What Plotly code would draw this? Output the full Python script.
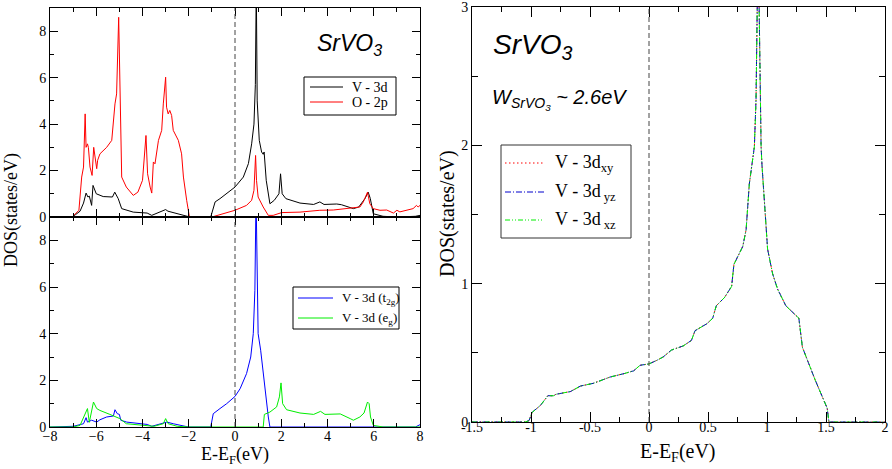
import plotly.graph_objects as go

# ---------------- data ----------------
# top-left panel: total V-3d and O-2p DOS
v3d_pts = [(-8,0), (-7.05,0), (-6.9,0.1), (-6.7,0.25), (-6.55,0.6), (-6.44,1.03), (-6.36,0.86), (-6.3,0.9),
           (-6.2,0.5), (-6.14,1.36), (-6.0,1.0), (-5.7,0.88), (-5.3,0.86), (-5.2,1.07), (-5.05,0.79), (-4.9,0.36),
           (-4.4,0.21), (-3.8,0.17), (-3.6,0.07), (-3.4,0.15), (-3.0,0.32), (-2.9,0.25), (-2.5,0.14), (-2.1,0.03),
           (-1.95,0), (-1.05,0), (-0.86,0.65), (-0.65,0.79), (-0.36,1.0), (0,1.29), (0.36,1.72), (0.58,2.3),
           (0.72,3.15), (0.82,4.0), (0.88,5.7), (0.92,10), (0.96,5.0), (1.05,3.3), (1.15,2.8), (1.22,2.7),
           (1.26,2.8), (1.35,1.58), (1.51,0.57), (1.7,0.72), (1.9,1.0), (1.97,1.86), (2.04,1.0), (2.2,0.79),
           (2.81,0.6), (3.4,0.54), (3.67,0.65), (3.85,0.54), (4.4,0.56), (4.6,0.53), (5.12,0.36), (5.35,0.43),
           (5.62,0.79), (5.76,1.07), (5.85,0.8), (5.98,0.14), (6.4,0.03), (7.0,0), (7.8,0.03), (8,0.07)]
o2p_pts = [(-8,0), (-7.05,0), (-6.99,0.05), (-6.75,0.29), (-6.63,1.72), (-6.55,2.15), (-6.48,4.44), (-6.44,3.0),
           (-6.38,3.15), (-6.34,3.0), (-6.27,2.15), (-6.18,1.79), (-6.11,3.0), (-6.05,2.58), (-5.98,2.08),
           (-5.94,2.44), (-5.84,2.72), (-5.55,3.0), (-5.33,3.3), (-5.19,4.87), (-5.12,5.3), (-5.03,8.6),
           (-4.98,5.3), (-4.9,1.72), (-4.7,1.29), (-4.4,0.93), (-4.2,1.07), (-4.0,1.58), (-3.85,3.51),
           (-3.78,1.86), (-3.67,1.29), (-3.6,1.03), (-3.53,2.37), (-3.46,2.29), (-3.31,3.3), (-3.17,3.73),
           (-3.1,4.87), (-3.0,6.02), (-2.96,4.73), (-2.89,4.44), (-2.82,4.59), (-2.74,4.37), (-2.67,3.73),
           (-2.45,3.3), (-2.31,2.72), (-2.23,1.72), (-2.09,0.72), (-1.97,0), (-1.0,0), (0,0.29), (0.5,0.5),
           (0.72,0.72), (0.82,1.15), (0.89,2.65), (0.93,1.58), (1.0,0.86), (1.22,0.43), (1.44,0.07), (1.65,0.07),
           (2.02,0.19), (2.81,0.21), (3.67,0.29), (4.25,0.3), (4.83,0.36), (5.4,0.43), (5.55,0.65), (5.66,0.93),
           (5.73,1.07), (5.83,0.57), (5.98,0.36), (6.27,0.29), (6.56,0.3), (6.85,0.17), (7.0,0.29), (7.13,0.22),
           (7.42,0.29), (7.7,0.36), (7.85,0.5), (7.92,0.43), (8.0,0.5)]

# bottom-left panel: t2g and eg projections
t2g_pts = [(-8,0), (-7.05,0), (-6.99,0.03), (-6.55,0.14), (-6.44,0.4), (-6.38,0.21), (-6.2,0.29), (-5.98,0.21),
           (-5.84,0.31), (-5.55,0.43), (-5.26,0.47), (-5.19,0.74), (-5.09,0.57), (-5.0,0.54), (-4.94,0.29),
           (-4.68,0.21), (-4.1,0.14), (-3.8,0.11), (-3.6,0.03), (-3.24,0.14), (-2.95,0.21), (-2.67,0.14),
           (-2.23,0.03), (-2.02,0), (-1.05,0), (-0.94,0.57), (-0.65,0.79), (-0.36,1.0), (0,1.31), (0.22,1.64),
           (0.5,2.29), (0.68,3.0), (0.79,4.0), (0.86,5.86), (0.91,10), (0.95,5.86), (1.0,4.0), (1.11,3.29),
           (1.22,2.31), (1.3,1.57), (1.37,1.0), (1.44,0.43), (1.51,0), (7.8,0), (8,0.1)]
eg_pts = [(-8,0), (-7.0,0), (-6.7,0.07), (-6.48,0.57), (-6.38,0.79), (-6.3,0.2), (-6.12,1.07), (-5.98,0.79),
          (-5.84,0.71), (-5.41,0.54), (-5.12,0.43), (-4.98,0.36), (-4.7,0.14), (-4.1,0.07), (-3.5,0.03),
          (-3.1,0.14), (-3.0,0.36), (-2.89,0.14), (-2.5,0.03), (-2.0,0), (1.22,0), (1.27,0.54), (1.51,0.64),
          (1.8,0.86), (1.92,1.29), (1.99,1.89), (2.06,1.0), (2.23,0.74), (2.81,0.6), (3.4,0.54), (3.7,0.67),
          (3.89,0.54), (4.4,0.57), (4.55,0.56), (4.98,0.36), (5.12,0.29), (5.4,0.43), (5.58,0.6), (5.73,1.07),
          (5.8,1.0), (5.86,0.43), (5.98,0.07), (6.4,0), (8,0)]

# right panel: single t2g orbital (xy, yz, xz coincide)
orb_pts = [(-1.5,0), (-1.05,0), (-1.017,0.01), (-0.99,0.07), (-0.92,0.12), (-0.857,0.19), (-0.806,0.19),
           (-0.79,0.2), (-0.666,0.22), (-0.58,0.26), (-0.47,0.28), (-0.33,0.325), (-0.21,0.35), (-0.13,0.37),
           (-0.076,0.41), (0,0.42), (0.065,0.445), (0.12,0.47), (0.19,0.52), (0.29,0.55), (0.36,0.59),
           (0.39,0.66), (0.49,0.71), (0.54,0.75), (0.57,0.84), (0.64,0.9), (0.70,0.98), (0.72,1.14),
           (0.795,1.27), (0.823,1.39), (0.85,1.72), (0.878,1.9), (0.893,1.99), (0.907,2.33), (0.916,2.82),
           (0.925,3.5), (0.935,2.9), (0.94,2.45), (0.95,1.99), (0.958,1.85), (0.978,1.56), (1.005,1.25),
           (1.048,1.07), (1.09,0.96), (1.16,0.84), (1.23,0.78), (1.27,0.75), (1.3,0.54), (1.357,0.41),
           (1.41,0.3), (1.47,0.18), (1.51,0.1), (1.525,0), (2.0,0)]

left_xticks = [-8, -6, -4, -2, 0, 2, 4, 6, 8]
left_yticks = [0, 2, 4, 6, 8]
right_xticks = [-1.5, -1, -0.5, 0, 0.5, 1, 1.5, 2]
right_xlabels = ["-1.5", "-1", "-0.5", "0", "0.5", "1", "1.5", "2"]
right_yticks = [0, 1, 2, 3]

names_top = ["V - 3d", "O - 2p"]
names_bot = ["V - 3d (t<sub>2g</sub>)", "V - 3d (e<sub>g</sub>)"]
names_right = ["V - 3d<sub>xy</sub>", "V - 3d<sub> yz</sub>", "V - 3d<sub> xz</sub>"]


def xy(pts):
    return [p[0] for p in pts], [p[1] for p in pts]


SERIF = "Liberation Serif"
SANS = "Liberation Sans"

style_top = [dict(color="black", width=1), dict(color="#ff0000", width=1)]
style_bot = [dict(color="#0000ff", width=1), dict(color="#00ee00", width=1)]
style_right = [dict(color="#ff0000", width=1, dash="1.5px,2.5px"),
               dict(color="#0000cc", width=1, dash="6px,2px,1px,2px"),
               dict(color="#00ee00", width=1, dash="5px,2px,1px,2px,1px,2px")]

fig = go.Figure()
for pts, nm, st in zip([v3d_pts, o2p_pts], names_top, style_top):
    x, y = xy(pts)
    fig.add_trace(go.Scatter(x=x, y=y, mode="lines", name=nm, line=st, xaxis="x", yaxis="y", showlegend=False))
for pts, nm, st in zip([t2g_pts, eg_pts], names_bot, style_bot):
    x, y = xy(pts)
    fig.add_trace(go.Scatter(x=x, y=y, mode="lines", name=nm, line=st, xaxis="x2", yaxis="y2", showlegend=False))
for nm, st in zip(names_right, style_right):
    x, y = xy(orb_pts)
    fig.add_trace(go.Scatter(x=x, y=y, mode="lines", name=nm, line=st, xaxis="x3", yaxis="y3", showlegend=False))

W, H = 892, 469
def px_x(p):
    return p / W
def px_y(p):
    return 1 - p / H

tickfont = dict(family=SERIF, size=14, color="black")
common = dict(showline=True, linecolor="black", linewidth=1, mirror="allticks", ticks="inside",
              tickcolor="black", showgrid=False, zeroline=False, tickfont=tickfont, automargin=False,
              ticklabeloverflow="allow")

left_dom = [px_x(50), px_x(420)]
top_dom = [px_y(217), px_y(8)]
bot_dom = [px_y(427), px_y(217)]
right_dom_x = [px_x(472), px_x(885)]
right_dom_y = [px_y(422), px_y(7)]

fig.update_layout(
    width=W, height=H, autosize=False,
    margin=dict(l=0, r=0, t=0, b=0, pad=0, autoexpand=False),
    paper_bgcolor="white", plot_bgcolor="white", showlegend=False,
    xaxis=dict(domain=left_dom, range=[-8, 8], tickvals=left_xticks, showticklabels=False, anchor="y",
               ticklen=8, minor=dict(dtick=1, ticklen=4, ticks="inside", tickcolor="black"), **common),
    yaxis=dict(domain=top_dom, range=[0, 9], tickvals=left_yticks, anchor="x", ticklen=8,
               minor=dict(dtick=1, ticklen=4, ticks="inside", tickcolor="black"), **common),
    xaxis2=dict(domain=left_dom, range=[-8, 8], tickvals=left_xticks, anchor="y2", ticklen=8,
                ticklabelstandoff=-4,
                minor=dict(dtick=1, ticklen=4, ticks="inside", tickcolor="black"), **common),
    yaxis2=dict(domain=bot_dom, range=[0, 9], tickvals=left_yticks, anchor="x2", ticklen=8,
                minor=dict(dtick=1, ticklen=4, ticks="inside", tickcolor="black"), **common),
    xaxis3=dict(domain=right_dom_x, range=[-1.5, 2], tickvals=right_xticks, ticktext=right_xlabels,
                anchor="y3", ticklen=10, ticklabelstandoff=-8,
                minor=dict(dtick=0.25, ticklen=5, ticks="inside", tickcolor="black"), **common),
    yaxis3=dict(domain=right_dom_y, range=[0, 3], tickvals=right_yticks, anchor="x3", ticklen=10,
                minor=dict(dtick=0.5, ticklen=6, ticks="inside", tickcolor="black"), **common),
)

# Fermi level dashed lines
fig.add_shape(type="line", xref="x2", yref="paper", x0=0, x1=0, y0=bot_dom[0], y1=top_dom[1],
              line=dict(color="#444444", width=1, dash="5px,3px"))
fig.add_shape(type="line", xref="x3", yref="y3 domain", x0=0, x1=0, y0=0, y1=1,
              line=dict(color="#444444", width=1, dash="5px,3px"))
# thicker separator between stacked panels
fig.add_shape(type="line", xref="paper", yref="paper", x0=left_dom[0], x1=left_dom[1],
              y0=top_dom[0], y1=top_dom[0], line=dict(color="black", width=2))


def legend_box(x0, y0, x1, y1, color, rows, fsize):
    """rows: list of (y, sample_x0, sample_x1, text_x, name, line_style)"""
    fig.add_shape(type="rect", xref="paper", yref="paper", x0=px_x(x0), x1=px_x(x1),
                  y0=px_y(y1), y1=px_y(y0), line=dict(color=color, width=1), fillcolor="white", layer="above")
    for (yy, sx0, sx1, tx, nm, st) in rows:
        fig.add_shape(type="line", xref="paper", yref="paper", x0=px_x(sx0), x1=px_x(sx1),
                      y0=px_y(yy), y1=px_y(yy), line=st, layer="above")
        fig.add_annotation(text=nm, x=px_x(tx), y=px_y(yy), xref="paper", yref="paper",
                           xanchor="left", yanchor="middle", showarrow=False,
                           font=dict(family=SERIF, size=fsize, color="black"))


legend_box(304, 77, 396, 115, "black",
           [(87, 310, 343, 350, names_top[0], style_top[0]),
            (102, 310, 343, 350, names_top[1], style_top[1])], 14)
legend_box(293, 287, 399, 329, "black",
           [(298, 298, 333, 340, names_bot[0], style_bot[0]),
            (318, 298, 333, 340, names_bot[1], style_bot[1])], 13)
legend_box(501, 145, 631, 238, "#333333",
           [(163, 505, 544, 553, names_right[0], style_right[0]),
            (192, 505, 544, 553, names_right[1], style_right[1]),
            (220, 505, 544, 553, names_right[2], style_right[2])], 18)

# texts
def label(text, x, y, size, family, angle=0):
    fig.add_annotation(text=text, x=px_x(x), y=px_y(y), xref="paper", yref="paper",
                       xanchor="center", yanchor="middle", textangle=angle, showarrow=False,
                       font=dict(family=family, size=size, color="black"))


label("<i>SrVO<sub>3</sub></i>", 349, 45, 23, SANS)
label("<i>SrVO<sub>3</sub></i>", 532, 46, 28, SANS)
label("<i>W<sub>SrVO<sub>3</sub></sub> ~ 2.6eV</i>", 559, 99, 20, SANS)
label("DOS(states/eV)", 12, 210, 18, SERIF, -90)
label("DOS(states/eV)", 447, 213, 20, SERIF, -90)
label("E-E<sub>F</sub>(eV)", 235, 455, 18, SERIF)
label("E-E<sub>F</sub>(eV)", 678, 452, 20, SERIF)

fig.write_html("out.html", post_script="document.body.style.margin='0px';",
               config={"displayModeBar": False})
